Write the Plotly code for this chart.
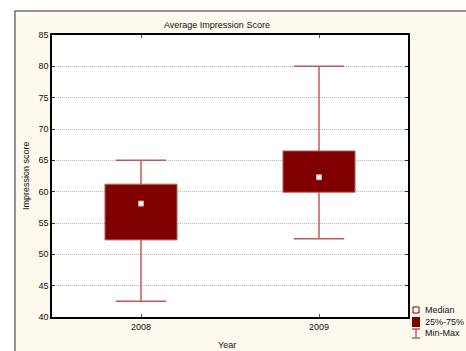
import plotly.graph_objects as go

years = ["2008", "2009"]
q1 = [52.3, 59.9]
q3 = [61.2, 66.5]
median = [58.1, 62.3]
vmin = [42.5, 52.5]
vmax = [65.0, 80.0]
y_ticks = [40, 45, 50, 55, 60, 65, 70, 75, 80, 85]

BOX = "#800000"
WHISK = "#c0585c"
FONT = "Liberation Sans, Arial, sans-serif"

W, H = 466, 351
L, R, T, B = 52, 58, 35, 34
pw, ph = W - L - R, H - T - B


def px(x):
    return (x - L) / pw


def py(y):
    return (H - B - y) / ph


fig = go.Figure()

# 25%-75% box
fig.add_trace(go.Bar(
    x=years, y=[b - a for a, b in zip(q1, q3)], base=q1,
    width=0.405, marker=dict(color=BOX, line=dict(color="#b86a6a", width=1)),
    showlegend=False, hoverinfo="skip"))

# whiskers
wx, wy = [], []
for c, a, b, lo, hi in zip(years, q1, q3, vmin, vmax):
    wx += [c, c, None, c, c, None]
    wy += [b, hi, None, a, lo, None]
fig.add_trace(go.Scatter(x=wx, y=wy, mode="lines",
                         line=dict(color=WHISK, width=1.5),
                         showlegend=False, hoverinfo="skip"))
# caps
fig.add_trace(go.Scatter(x=years + years, y=vmin + vmax, mode="markers",
                         marker=dict(symbol="line-ew", size=36,
                                     line=dict(color=WHISK, width=1.5)),
                         showlegend=False, hoverinfo="skip"))
# median
fig.add_trace(go.Scatter(x=years, y=median, mode="markers",
                         marker=dict(symbol="square", size=5, color="white",
                                     line=dict(color="#d9a0a0", width=1)),
                         showlegend=False, hoverinfo="skip"))

shapes = [
    # outer cream panel
    dict(type="rect", xref="paper", yref="paper", layer="below",
         x0=px(15), x1=px(480), y0=py(365), y1=py(11),
         fillcolor="#fdf9ee", line=dict(color="#707070", width=1.5)),
    # plot area white
    dict(type="rect", xref="paper", yref="paper", layer="below",
         x0=0, x1=1, y0=0, y1=1, fillcolor="white", line=dict(width=0)),
    # legend icons
    dict(type="rect", xref="paper", yref="paper",
         x0=px(413), x1=px(419), y0=py(313), y1=py(307),
         fillcolor="white", line=dict(color=BOX, width=1)),
    dict(type="rect", xref="paper", yref="paper",
         x0=px(412), x1=px(420), y0=py(327), y1=py(317),
         fillcolor=BOX, line=dict(color=BOX, width=0)),
    dict(type="line", xref="paper", yref="paper",
         x0=px(416), x1=px(416), y0=py(338), y1=py(329),
         line=dict(color=WHISK, width=1.5)),
    dict(type="line", xref="paper", yref="paper",
         x0=px(412), x1=px(420), y0=py(329), y1=py(329),
         line=dict(color=WHISK, width=1.5)),
    dict(type="line", xref="paper", yref="paper",
         x0=px(412), x1=px(420), y0=py(338), y1=py(338),
         line=dict(color=WHISK, width=1.5)),
]

ann = [
    dict(text="Average Impression Score", x=px(217), y=py(25)),
    dict(text="Impression score", x=px(26), y=py(176), textangle=-90),
    dict(text="Year", x=px(227), y=py(345)),
]
for a in ann:
    a.update(xanchor="center")
for lbl, yy in [("Median", 310), ("25%-75%", 322), ("Min-Max", 333)]:
    ann.append(dict(text=lbl, x=px(423), y=py(yy), xanchor="left"))
for a in ann:
    a.update(xref="paper", yref="paper", yanchor="middle", showarrow=False,
             font=dict(size=9, color="#111"))

fig.update_layout(
    width=W, height=H, margin=dict(l=L, r=R, t=T, b=B),
    paper_bgcolor="white", plot_bgcolor="rgba(0,0,0,0)",
    font=dict(family=FONT, size=9, color="#111"),
    showlegend=False, shapes=shapes, annotations=ann,
    xaxis=dict(type="category", range=[-0.5, 1.5], showgrid=False,
               ticks="inside", ticklen=3, tickcolor="#555",
               showline=True, linecolor="black", linewidth=1.5, mirror="ticks",
               tickfont=dict(size=9), fixedrange=True),
    yaxis=dict(range=[40, 85], tickvals=y_ticks, ticks="inside", ticklen=3,
               tickcolor="#333", showgrid=True, gridcolor="#b8b8b8",
               griddash="1px,1px", gridwidth=1, zeroline=False,
               showline=True, linecolor="black", linewidth=1.5, mirror="ticks",
               tickfont=dict(size=9), fixedrange=True),
)

fig.write_html("out.html", config={"displayModeBar": False},
               post_script="document.body.style.margin='0px';")
